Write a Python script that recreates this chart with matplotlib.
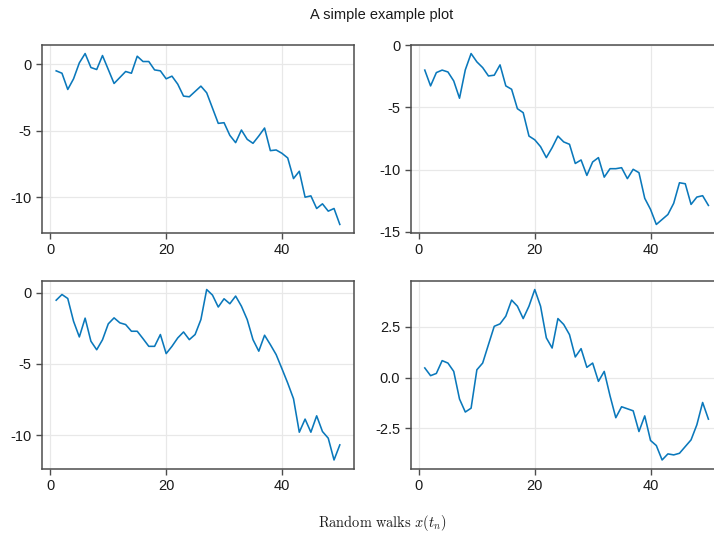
import matplotlib.pyplot as plt
from matplotlib.ticker import FormatStrFormatter

plt.rcParams['font.family'] = ['Liberation Sans', 'DejaVu Sans']
plt.rcParams['mathtext.fontset'] = 'cm'
plt.rcParams['axes.unicode_minus'] = False

steps = list(range(1, 51))

walk_a = [-0.5, -0.68, -1.9, -1.1, 0.1, 0.8, -0.25, -0.4, 0.65, -0.4,
          -1.45, -1.0, -0.55, -0.68, 0.6, 0.2, 0.2, -0.43, -0.5, -1.1,
          -0.9, -1.5, -2.4, -2.45, -2.05, -1.65, -2.15, -3.3, -4.45, -4.4,
          -5.35, -5.9, -4.95, -5.65, -5.95, -5.4, -4.8, -6.5, -6.45, -6.7,
          -7.05, -8.6, -8.05, -10.0, -9.9, -10.85, -10.5, -11.05, -10.85, -12.05]

walk_b = [-2.0, -3.27, -2.2, -2.0, -2.15, -2.87, -4.26, -1.98, -0.67, -1.34,
          -1.8, -2.47, -2.41, -1.58, -3.27, -3.54, -5.1, -5.42, -7.3, -7.6,
          -8.15, -9.03, -8.23, -7.3, -7.77, -7.96, -9.5, -9.22, -10.46, -9.38,
          -9.03, -10.6, -9.92, -9.92, -9.84, -10.72, -9.97, -10.24, -12.3, -13.19,
          -14.4, -14.0, -13.6, -12.7, -11.05, -11.13, -12.79, -12.2, -12.09, -12.87]

walk_c = [-0.52, -0.12, -0.4, -2.0, -3.1, -1.78, -3.4, -4.0, -3.3, -2.18,
          -1.76, -2.11, -2.23, -2.7, -2.7, -3.22, -3.76, -3.76, -2.93, -4.27,
          -3.76, -3.17, -2.75, -3.29, -2.93, -1.88, 0.23, -0.16, -1.0, -0.42,
          -0.77, -0.23, -0.94, -1.88, -3.29, -4.1, -2.98, -3.64, -4.34, -5.33,
          -6.34, -7.44, -9.79, -8.87, -9.79, -8.64, -9.74, -10.21, -11.74, -10.68]

walk_d = [0.48, 0.1, 0.21, 0.84, 0.72, 0.31, -1.05, -1.69, -1.5, 0.39,
          0.72, 1.63, 2.53, 2.65, 3.03, 3.82, 3.52, 2.91, 3.52, 4.34,
          3.52, 1.96, 1.46, 2.91, 2.62, 2.12, 1.02, 1.43, 0.51, 0.72,
          -0.18, 0.31, -0.89, -1.97, -1.43, -1.53, -1.63, -2.65, -1.88, -3.09,
          -3.34, -4.05, -3.75, -3.8, -3.72, -3.39, -3.06, -2.32, -1.22, -2.04]

x_ticks = [0, 20, 40]
y_ticks = [[0, -5, -10], [0, -5, -10, -15], [0, -5, -10], [2.5, 0.0, -2.5]]

W, H = 714, 535
fig = plt.figure(figsize=(W / 100, H / 100), dpi=100)

# panel boxes in pixels: left, top, width, height
boxes = [(42, 45, 312, 188), (410.6, 45, 312, 188),
         (42, 281, 312, 187.5), (410.6, 281, 312, 187.5)]
walks = [walk_a, walk_b, walk_c, walk_d]

for i, (box, walk) in enumerate(zip(boxes, walks)):
    l, t, w, h = box
    ax = fig.add_axes([l / W, (H - t - h) / H, w / W, h / H])
    ax.plot(steps, walk, color='#0a78bb', lw=1.15)
    ax.margins(0.05)
    ax.set_xticks(x_ticks)
    ax.set_yticks(y_ticks[i])
    if i == 3:
        ax.yaxis.set_major_formatter(FormatStrFormatter('%.1f'))
    ax.grid(True, color='#e8e8e8', lw=0.9)
    ax.set_axisbelow(True)
    for sp in ax.spines.values():
        sp.set_color('#4d4d4d')
        sp.set_linewidth(1.1)
    ax.tick_params(direction='out', length=4.5, width=1.0, color='#4d4d4d',
                   labelsize=10.5, labelcolor='#1a1a1a', pad=3)

fig.text(382 / W, 1 - 15 / H, 'A simple example plot', ha='center', va='center',
         fontsize=10.5, color='#1a1a1a')
fig.text(382 / W, 1 - 523 / H, r'$\mathrm{Random\ walks}\ x(t_n)$',
         ha='center', va='center', fontsize=10.4, color='#1a1a1a')

fig.savefig('out.png', dpi=100)
